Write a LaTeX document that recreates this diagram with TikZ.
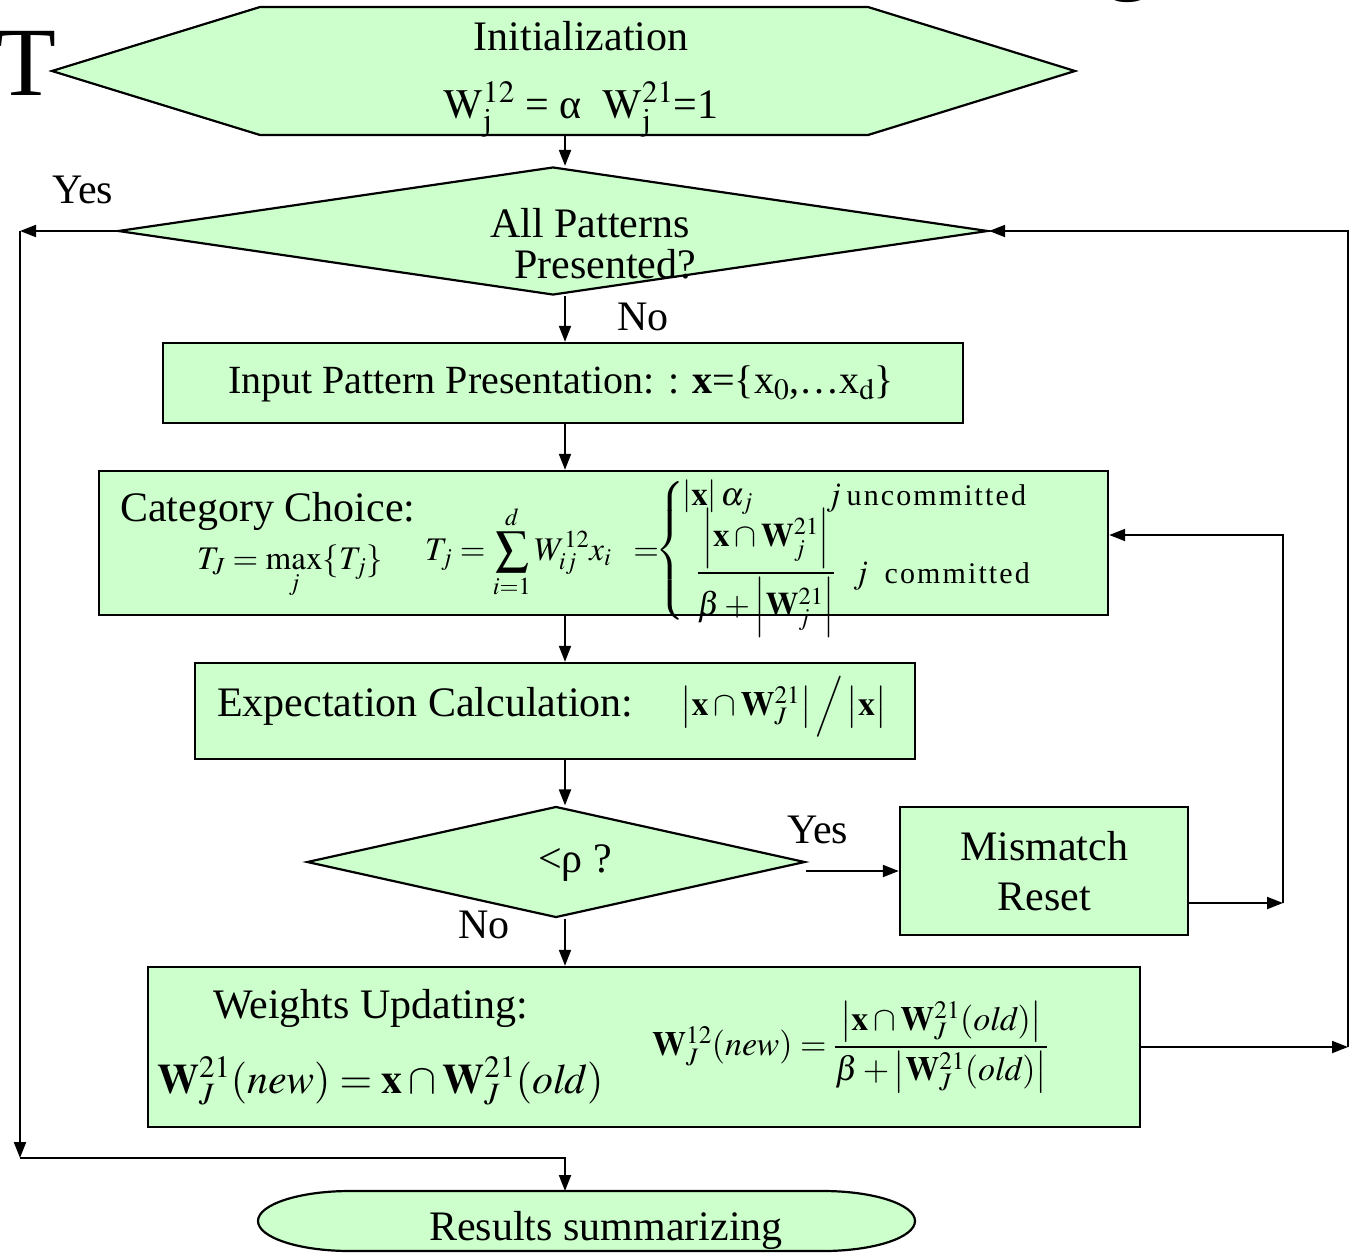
\documentclass[tikz,border=0pt]{standalone}
\usepackage{amsmath}
\usepackage{mathptmx}
\usepackage{fontspec}
\setmainfont{Liberation Serif}
\usetikzlibrary{shapes.geometric,arrows.meta,calc}
\definecolor{boxgreen}{HTML}{CCFFCC}
\newcommand{\bigtxt}{\fontsize{42}{50}\selectfont}
\newcommand{\fmla}{\fontsize{33}{40}\selectfont}
\newcommand{\smtxt}{\fontsize{30}{36}\selectfont\addfontfeature{LetterSpace=7}}

\begin{document}
\begin{tikzpicture}[x=1pt,y=1pt,
  stepbox/.style={draw, line width=2.4pt, fill=boxgreen, inner sep=0pt},
  decision/.style={diamond, draw, line width=2.2pt, fill=boxgreen, inner sep=0pt},
  arr/.style={line width=2pt, -{Triangle[length=16pt,width=12pt]}},
  lbl/.style={font=\bigtxt, inner sep=0pt, anchor=base west},
  fm/.style={font=\fmla, inner sep=0pt},
]
\useasboundingbox (0,0) rectangle (1351,-1253);
\fill[white] (0,0) rectangle (1351,-1253);

% title fragments
\node[font=\fontsize{98}{110}\selectfont, anchor=base west, inner sep=0pt] (ttlA) at (-4,-95) {T};
\node[font=\fontsize{98}{110}\selectfont, anchor=base, inner sep=0pt] (ttlB) at (1129,19) {g};

% initialization hexagon
\path[fill=boxgreen, draw, line width=2.2pt] (52,-71) -- (260,-7) -- (868,-7) -- (1075,-71) -- (868,-135) -- (260,-135) -- cycle;
\node[minimum width=1023pt, minimum height=128pt, inner sep=0pt] (init) at (563.5,-71) {};
\node[lbl, anchor=base] (initA) at (581,-50) {Initialization};
\node[lbl, anchor=base] (initB) at (581,-118) {$\mathrm{W}_{\mathrm{j}}^{12}$ = α\ \ $\mathrm{W}_{\mathrm{j}}^{21}$=1};

% all patterns decision
\node[decision, minimum width=870pt, minimum height=128pt] (allp) at (553,-231) {};
\node[lbl, anchor=base] (allpA) at (590,-237) {All Patterns};
\node[lbl, anchor=base] (allpB) at (605,-278) {Presented?};

% input pattern
\node[stepbox, minimum width=800pt, minimum height=80pt] (inp) at (563,-383) {};
\node[lbl, anchor=base, font=\fontsize{40}{48}\selectfont] (inpT) at (561,-393) {Input Pattern Presentation: : \textbf{x}=\{x$_{0}$,…x$_{\mathrm{d}}$\}};

% category choice
\node[stepbox, minimum width=1009pt, minimum height=144pt] (cat) at (603.5,-543) {};
\node[lbl] (catT) at (120,-521) {Category Choice:};
\node[fm] (tmax) at (290,-572) {$\displaystyle T_J = \max_j\{T_j\}$};
\node[fm, anchor=west] (tsum) at (425,-552) {$\displaystyle T_j = \sum_{i=1}^{d} W_{ij}^{12}x_i \;\;=$};
\node[fm] (brc) at (671,-551) {$\left\{\vrule height 62pt depth 62pt width 0pt\right.$};
\node[fm, anchor=base west] (rowA) at (682,-505) {$\left|\mathbf{x}\right|\alpha_j$};
\node[fm, anchor=base west] (rowAt) at (826,-505) {$j$\,{\smtxt uncommitted}};
\node[fm] (rowB) at (766,-573) {$\dfrac{\left|\mathbf{x}\cap\mathbf{W}_j^{21}\right|}{\beta+\left|\mathbf{W}_j^{21}\right|}$};
\node[fm, anchor=base west] (rowBt) at (853,-583) {$j$\ \ {\smtxt committed}};

% expectation
\node[stepbox, minimum width=720pt, minimum height=96pt] (exp) at (555,-711) {};
\node[lbl] (expT) at (217,-716) {Expectation Calculation:};
\node[font=\fontsize{34}{40}\selectfont, inner sep=0pt, anchor=west] (expF) at (680,-707)
  {$\left|\mathbf{x}\cap\mathbf{W}_J^{21}\right|\Big/\left|\mathbf{x}\vphantom{\mathbf{W}_J^{21}}\right|$};

% vigilance decision
\node[decision, minimum width=498pt, minimum height=111pt] (rho) at (556,-862) {};
\node[lbl, anchor=base] (rhoT) at (575,-872) {<ρ ?};

% mismatch reset
\node[stepbox, minimum width=288pt, minimum height=128pt, font=\bigtxt, align=center] (mm) at (1044,-871) {Mismatch\\Reset};

% weights updating
\node[stepbox, minimum width=992pt, minimum height=160pt] (wts) at (644,-1047) {};
\node[lbl] (wtsT) at (213,-1018) {Weights Updating:};
\node[font=\fontsize{42}{50}\selectfont, inner sep=0pt, anchor=base west] (wl) at (157,-1093)
  {$\mathbf{W}_J^{21}(\mathit{new}) = \mathbf{x}\cap\mathbf{W}_J^{21}(\mathit{old})$};
\node[font=\fontsize{34}{40}\selectfont, inner sep=0pt, anchor=west] (wr) at (652,-1047)
  {$\mathbf{W}_J^{12}(\mathit{new}) = \dfrac{\left|\mathbf{x}\cap\mathbf{W}_J^{21}(\mathit{old})\right|}{\beta+\left|\mathbf{W}_J^{21}(\mathit{old})\right|}$};

% results
\path[fill=boxgreen, draw, line width=2.2pt] (350,-1191) -- (823,-1191)
  arc[start angle=90, end angle=-90, x radius=92, y radius=30] -- (350,-1251)
  arc[start angle=270, end angle=90, x radius=92, y radius=30] -- cycle;
\coordinate (resTop) at (565,-1191);
\node[lbl, anchor=base] (res) at (606,-1240) {Results summarizing};

% branch labels
\node[lbl] (yesA) at (52,-203) {Yes};
\node[lbl] (noA) at (617,-330) {No};
\node[lbl] (yesB) at (787,-843) {Yes};
\node[lbl] (noB) at (458,-938) {No};

% main spine
\coordinate (spine) at (565,0);
\draw[arr] (spine |- init.south) -- (spine |- allp.north);
\draw[arr] (spine |- allp.south) -- (spine |- inp.north);
\draw[arr] (spine |- inp.south) -- (spine |- cat.north);
\draw[arr] (spine |- cat.south) -- (spine |- exp.north);
\draw[arr] (spine |- exp.south) -- (spine |- rho.north);
\draw[arr] (spine |- rho.south) -- (spine |- wts.north);

% all presented: go to results
\coordinate (lTop) at (20,-231);
\coordinate (lBot) at (20,-1158);
\draw[arr] (allp.west) -- (lTop);
\draw[arr] (lTop) -- (lBot);
\draw[arr] (lBot) -| (resTop);

% next pattern loop
\coordinate (rBot) at (1348,-1047);
\draw[arr] (wts.east) -- (rBot);
\draw[arr] (rBot) |- (allp.east);

% mismatch loop
\draw[arr] (mm.west -| rho.east) -- (mm.west);
\coordinate (mOut) at (1283,-903);
\draw[arr] ([yshift=-32pt]mm.east) -- (mOut);
\draw[arr] (mOut) |- ([yshift=8pt]cat.east);
\end{tikzpicture}
\end{document}
